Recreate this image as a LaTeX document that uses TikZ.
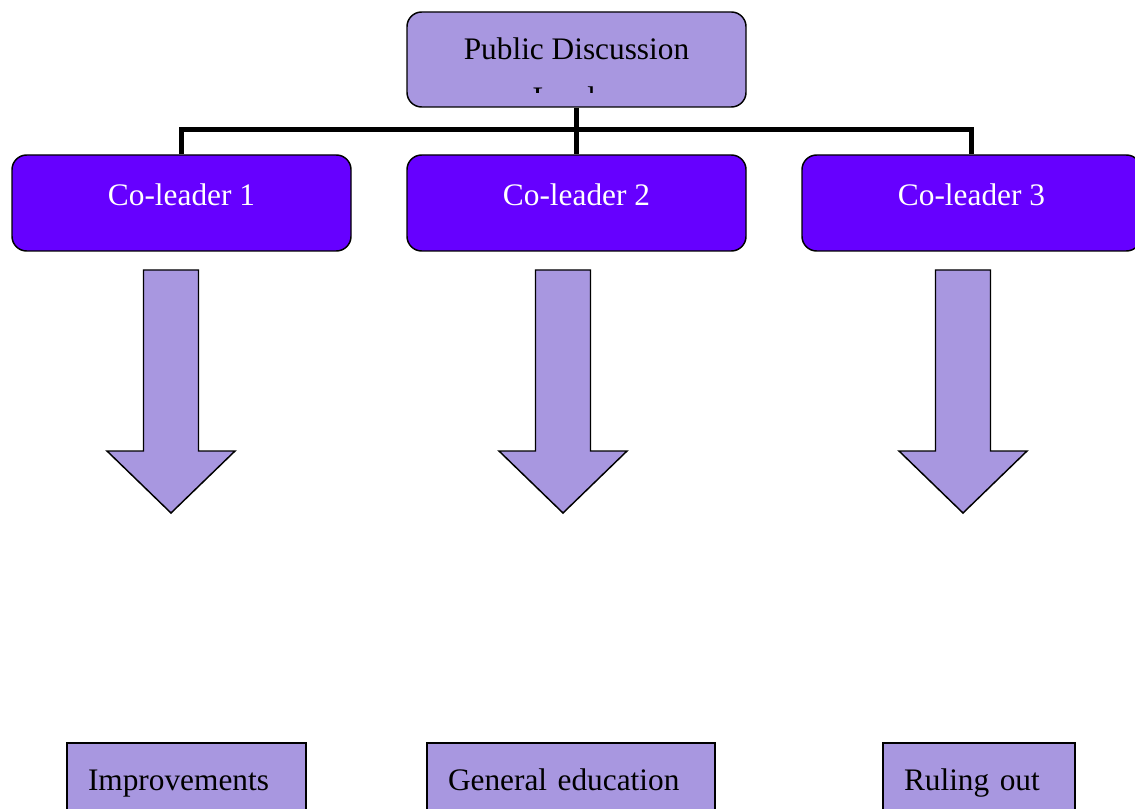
\documentclass[tikz,border=0pt]{standalone}
\usepackage{fontspec}
\setmainfont{Liberation Serif}
\definecolor{lav}{RGB}{168,151,224}
\definecolor{vio}{RGB}{102,0,255}
\begin{document}
\begin{tikzpicture}[x=0.75pt,y=-0.75pt,
    every node/.style={font=\fontsize{23.5}{28}\selectfont},
    leadbox/.style={draw,line width=1.1pt,fill=lav,rounded corners=11pt,inner sep=0pt,anchor=base,
      minimum width=254.25pt,text height=36pt,text depth=35.25pt},
    cobox/.style={draw,line width=1.1pt,fill=vio,text=white,rounded corners=11pt,inner sep=0pt,anchor=base,
      minimum width=254.25pt,text height=38.25pt,text depth=33.75pt},
    taskbox/.style={draw,line width=1.1pt,fill=lav,inner xsep=15.75pt,inner ysep=0pt,anchor=base,
      align=left,text height=35.25pt,text depth=22.5pt},
    link/.style={line width=3.75pt,line join=miter},
    bigarrow/.style={draw,line width=1.1pt,fill=lav,line join=miter}]
        \useasboundingbox (0,0) rectangle (1135,809);
        \clip (0,0) rectangle (1135,809);
        % leader and co-leaders
        \node[leadbox] (lead) at (576.5,60) {Public Discussion};
        \begin{scope}
          \clip (407,12) rectangle (746,93);
          \node[anchor=base] (leadrest) at (576,109) {Leader};
        \end{scope}
        \node[cobox] (co1) at (181.5,206) {Co-leader 1};
        \node[cobox] (co2) at (576.5,206) {Co-leader 2};
        \node[cobox] (co3) at (971.5,206) {Co-leader 3};
        % connectors
        \coordinate (bus) at (576.5,130);
        \draw[link] (lead.south) -- (bus);
        \draw[link] (co1.north) |- (bus) -| (co3.north);
        \draw[link] (bus) -- (co2.north);
        % block arrows
        \foreach \x in {171,563,963}
          \draw[bigarrow] (\x-27.5,270) -- (\x+27.5,270) -- (\x+27.5,451) -- (\x+64,451)
            -- (\x,513) -- (\x-64,451) -- (\x-27.5,451) -- cycle;
        % tasks
        \node[taskbox,text width=147.75pt] (task1) at (186.5,790) {Improvements};
        \node[taskbox,text width=184.5pt] (task2) at (571,790) {General education};
        \node[taskbox,text width=112.5pt] (task3) at (979,790) {Ruling out};
      \end{tikzpicture}
\end{document}
